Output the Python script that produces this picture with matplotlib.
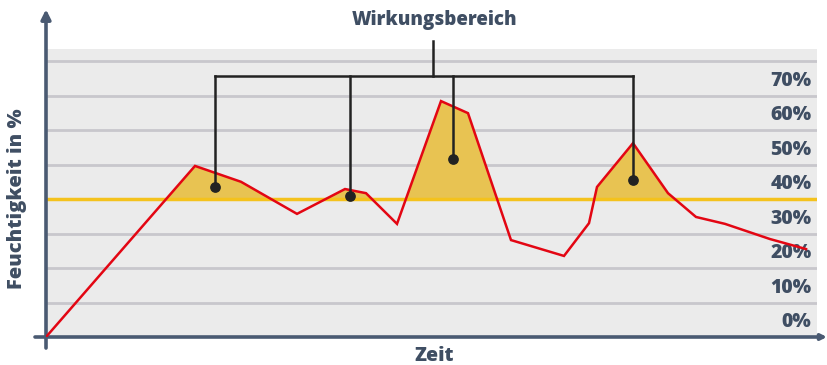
import matplotlib.pyplot as plt
import numpy as np

# humidity curve over time (arbitrary time units)
time = [0, 149, 195, 251, 299, 320, 351, 395, 422, 465, 518, 543, 551, 587, 622, 650, 679, 724, 760]
humidity = [-5, 44.6, 40.0, 30.7, 37.9, 36.7, 27.8, 63.4, 59.9, 23.1, 18.5, 28.0, 38.5, 51.2, 36.7, 29.8, 27.8, 23.4, 20.5]

threshold = 35
tick_values = [0, 10, 20, 30, 40, 50, 60, 70]
tick_labels = ['0%', '10%', '20%', '30%', '40%', '50%', '60%', '70%']
grid_values = [5, 15, 25, 45, 55, 65, 75]

# callout dots inside the areas above the threshold
dot_x = [169, 304, 407, 587]
dot_y = [38.5, 35.9, 46.6, 40.5]
bracket_y = 70.7
bracket_top = 80.8
bracket_mid = 387

TEXT = '#3f4e63'
AXIS = '#4a5a72'
RED = '#e30613'
GOLD = '#e8c352'
YELLOW = '#f4c21d'
DARK = '#222222'
WEIGHT = 800

plt.rcParams['font.family'] = ['Open Sans', 'DejaVu Sans']

fig = plt.figure(figsize=(8.27, 3.65), dpi=100)
ax = fig.add_axes([46 / 827, 28 / 365, 771 / 827, 288 / 365])
ax.set_facecolor('#ebebeb')
ax.set_xlim(0, 771)
ax.set_ylim(-5, 78.5)
for s in ax.spines.values():
    s.set_visible(False)

for g in grid_values:
    ax.axhline(g, color='#c8c7cc', lw=2, zorder=1)

t = np.array(time)
h = np.array(humidity)
ax.fill_between(t, h, threshold, where=h > threshold, interpolate=True,
                color=GOLD, lw=0, zorder=2)
ax.axhline(threshold, color=YELLOW, lw=2.5, zorder=3)
ax.plot(t, h, color=RED, lw=1.8, zorder=4, solid_joinstyle='miter')

# bracket joining the four areas
ax.plot([dot_x[0], dot_x[-1]], [bracket_y, bracket_y], color=DARK, lw=1.8,
        zorder=5, solid_capstyle='projecting')
for x, y in zip(dot_x, dot_y):
    ax.plot([x, x], [y, bracket_y], color=DARK, lw=1.8, zorder=5,
            solid_capstyle='projecting')
ax.plot([bracket_mid, bracket_mid], [bracket_y, bracket_top], color=DARK, lw=1.8,
        zorder=5, clip_on=False)
ax.scatter(dot_x, dot_y, s=45, color=DARK, zorder=6)

ax.set_xticks([])
ax.set_yticks(tick_values)
ax.set_yticklabels(tick_labels)
ax.yaxis.set_ticks_position('right')
ax.tick_params(axis='y', length=0, pad=-4, labelsize=14, labelcolor=TEXT)
for lbl in ax.get_yticklabels():
    lbl.set_ha('right')
    lbl.set_fontweight(WEIGHT)

# axis arrows
ax.annotate('', xy=(0, 90), xytext=(0, -8.2), xycoords='data',
            arrowprops=dict(arrowstyle='-|>', color=AXIS, lw=2.6,
                            mutation_scale=14, shrinkA=0, shrinkB=0),
            annotation_clip=False)
ax.annotate('', xy=(781, -5), xytext=(-11, -5), xycoords='data',
            arrowprops=dict(arrowstyle='-|>', color=AXIS, lw=2.6,
                            mutation_scale=8, shrinkA=0, shrinkB=0),
            annotation_clip=False)

ax.text(bracket_mid + 2, 86.8, 'Wirkungsbereich', ha='center', va='center',
        fontsize=13.5, fontweight=WEIGHT, color=TEXT, clip_on=False)
ax.text(388, -10.4, 'Zeit', ha='center', va='center',
        fontsize=14, fontweight=WEIGHT, color=TEXT, clip_on=False)
fig.text(17 / 827, 1 - 199 / 365, 'Feuchtigkeit in %', rotation=90,
         ha='center', va='center', fontsize=14.5, fontweight=WEIGHT, color=TEXT)

fig.savefig('out.png', dpi=100)
